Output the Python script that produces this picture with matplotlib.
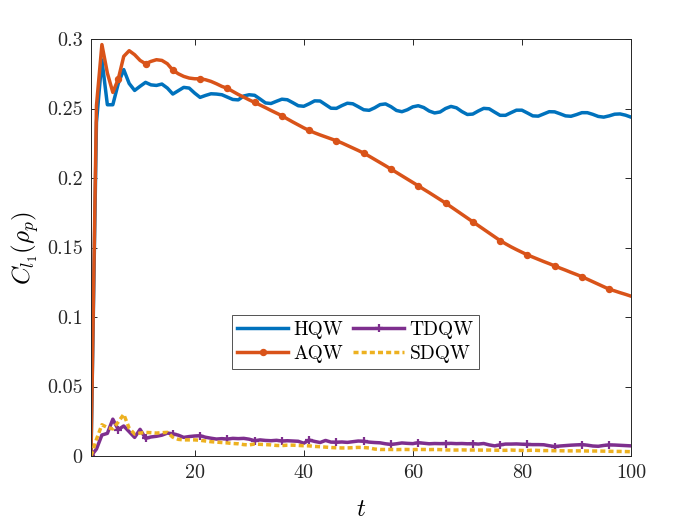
import matplotlib
matplotlib.use("Agg")
import matplotlib.pyplot as plt
import numpy as np

plt.rcParams['font.family'] = 'serif'
plt.rcParams['font.serif'] = ['cmr10']
plt.rcParams['mathtext.fontset'] = 'cm'
plt.rcParams['axes.formatter.use_mathtext'] = True
plt.rcParams['axes.unicode_minus'] = False

t = list(range(1, 101))

hqw = [0.0, 0.240, 0.285, 0.2527, 0.2527, 0.268, 0.278, 0.268, 0.263, 0.266,
       0.2688, 0.267, 0.2666, 0.2676, 0.2647, 0.2604, 0.2628, 0.2652, 0.2647, 0.2611,
       0.2580, 0.2594, 0.2606, 0.2604, 0.2599, 0.2582, 0.2565, 0.2562, 0.2590, 0.2599,
       0.2595, 0.2568, 0.2540, 0.2536, 0.2552, 0.2567, 0.2563, 0.2542, 0.2520, 0.2516,
       0.2534, 0.2555, 0.2554, 0.2528, 0.2502, 0.2501, 0.2521, 0.2538, 0.2534, 0.2513,
       0.2491, 0.2487, 0.2505, 0.2528, 0.2533, 0.2513, 0.2486, 0.2477, 0.2491, 0.2512,
       0.2520, 0.2507, 0.2482, 0.2468, 0.2475, 0.2500, 0.2515, 0.2505, 0.2478, 0.2457,
       0.2460, 0.2482, 0.2501, 0.2498, 0.2474, 0.2451, 0.2451, 0.2470, 0.2488, 0.2488,
       0.2468, 0.2447, 0.2445, 0.2461, 0.2477, 0.2476, 0.2462, 0.2447, 0.2444, 0.2456,
       0.2470, 0.2470, 0.2458, 0.2443, 0.2438, 0.2447, 0.2459, 0.2461, 0.2452, 0.2438]

aqw = [0.0, 0.252, 0.296, 0.2755, 0.2616, 0.2712, 0.2875, 0.2916, 0.2887, 0.2846,
       0.2822, 0.2839, 0.2851, 0.2846, 0.2822, 0.2776, 0.2750, 0.2731, 0.2719, 0.2714,
       0.2714, 0.2707, 0.2695, 0.2678, 0.2659, 0.2645, 0.2623, 0.2601, 0.2582, 0.2562,
       0.2544, 0.2525, 0.2506, 0.2486, 0.2467, 0.2448, 0.2425, 0.2403, 0.2382, 0.2361,
       0.2342, 0.2325, 0.2310, 0.2296, 0.2282, 0.2268, 0.2252, 0.2234, 0.2216, 0.2198,
       0.2179, 0.2157, 0.2134, 0.2111, 0.2088, 0.2064, 0.2040, 0.2016, 0.1992, 0.1968,
       0.1944, 0.1919, 0.1895, 0.1870, 0.1845, 0.1820, 0.1793, 0.1766, 0.1739, 0.1712,
       0.1685, 0.1658, 0.1631, 0.1604, 0.1577, 0.1550, 0.1527, 0.1505, 0.1485, 0.1466,
       0.1447, 0.1431, 0.1415, 0.1399, 0.1384, 0.1368, 0.1352, 0.1337, 0.1321, 0.1306,
       0.1290, 0.1272, 0.1254, 0.1236, 0.1218, 0.1200, 0.1188, 0.1175, 0.1163, 0.1150]

tdqw = [0.0, 0.0050, 0.0151, 0.0163, 0.0265, 0.0190, 0.0216, 0.0175, 0.0134, 0.0192,
        0.0127, 0.0137, 0.0142, 0.0150, 0.0165, 0.0160, 0.0150, 0.0134, 0.0140, 0.0144,
        0.0146, 0.0135, 0.0128, 0.0122, 0.0125, 0.0122, 0.0127, 0.0125, 0.0127, 0.0121,
        0.0110, 0.0116, 0.0112, 0.0110, 0.0113, 0.0108, 0.0110, 0.0108, 0.0106, 0.0092,
        0.0115, 0.0105, 0.0097, 0.0112, 0.0100, 0.0099, 0.0101, 0.0098, 0.0103, 0.0108,
        0.0106, 0.0100, 0.0097, 0.0095, 0.0088, 0.0083, 0.0088, 0.0094, 0.0091, 0.0089,
        0.0096, 0.0092, 0.0088, 0.0090, 0.0089, 0.0090, 0.0091, 0.0089, 0.0090, 0.0088,
        0.0089, 0.0086, 0.0090, 0.0080, 0.0073, 0.0080, 0.0086, 0.0086, 0.0087, 0.0085,
        0.0083, 0.0082, 0.0082, 0.0081, 0.0074, 0.0068, 0.0072, 0.0075, 0.0078, 0.0080,
        0.0082, 0.0078, 0.0072, 0.0070, 0.0076, 0.0080, 0.0079, 0.0077, 0.0075, 0.0073]

sdqw = [0.0, 0.0120, 0.0225, 0.0205, 0.0195, 0.0245, 0.0300, 0.0200, 0.0158, 0.0165,
        0.0170, 0.0168, 0.0165, 0.0168, 0.0170, 0.0135, 0.0120, 0.0116, 0.0116, 0.0116,
        0.0113, 0.0108, 0.0103, 0.0100, 0.0097, 0.0094, 0.0090, 0.0088, 0.0082, 0.0080,
        0.0086, 0.0084, 0.0082, 0.0080, 0.0076, 0.0075, 0.0078, 0.0078, 0.0076, 0.0074,
        0.0073, 0.0069, 0.0067, 0.0064, 0.0061, 0.0059, 0.0058, 0.0058, 0.0060, 0.0062,
        0.0061, 0.0058, 0.0050, 0.0047, 0.0047, 0.0047, 0.0046, 0.0047, 0.0047, 0.0046,
        0.0047, 0.0047, 0.0046, 0.0047, 0.0046, 0.0044, 0.0043, 0.0043, 0.0044, 0.0043,
        0.0043, 0.0043, 0.0042, 0.0043, 0.0042, 0.0041, 0.0041, 0.0043, 0.0041, 0.0040,
        0.0040, 0.0042, 0.0040, 0.0039, 0.0039, 0.0038, 0.0038, 0.0037, 0.0037, 0.0037,
        0.0037, 0.0036, 0.0036, 0.0036, 0.0035, 0.0034, 0.0033, 0.0033, 0.0032, 0.0031]

labels = ['HQW', 'AQW', 'TDQW', 'SDQW']
colors = ['#0072BD', '#D95319', '#7E2F8E', '#EDB120']

xticks = [20, 40, 60, 80, 100]
yticks = [0, 0.05, 0.1, 0.15, 0.2, 0.25, 0.3]
yticklabels = ['0', '0.05', '0.1', '0.15', '0.2', '0.25', '0.3']

fig = plt.figure(figsize=(7, 5.25), dpi=100)
ax = fig.add_axes([0.13, 0.1314, 0.7714, 0.7943])

lw = 2.5
ax.plot(t, hqw, color=colors[0], lw=lw, label=labels[0], solid_joinstyle='round')
ax.plot(t, aqw, color=colors[1], lw=lw, label=labels[1], marker='o', markersize=4.3,
        markevery=(0, 5), solid_joinstyle='round')
ax.plot(t, tdqw, color=colors[2], lw=lw, label=labels[2], marker='+', markersize=6,
        markeredgewidth=1.6, markevery=(0, 5), solid_joinstyle='round')
ax.plot(t, sdqw, color=colors[3], lw=lw, label=labels[3], linestyle=(0, (1.45, 0.9)))

ax.set_xlim(1, 100)
ax.set_ylim(0, 0.3)
ax.set_xticks(xticks)
ax.set_xticklabels([str(v) for v in xticks])
ax.set_yticks(yticks)
ax.set_yticklabels(yticklabels)

ax.tick_params(direction='in', top=True, right=True, length=4, width=0.7,
               labelsize=14.5, colors='#262626', pad=6)
for s in ax.spines.values():
    s.set_linewidth(0.7)
    s.set_color('#262626')

ax.set_xlabel(r'$t$', fontsize=18, labelpad=12)
ax.set_ylabel(r'$C_{l_1}(\rho_p)$', fontsize=18, labelpad=4)

leg = fig.legend(loc='center', bbox_to_anchor=(0.508, 0.3486), ncol=2, fontsize=14,
                 frameon=True, fancybox=False, edgecolor='#262626', handlelength=2.6,
                 columnspacing=0.5, handletextpad=0.3, labelspacing=0.32,
                 borderpad=0.28, borderaxespad=0)
leg.get_frame().set_linewidth(0.7)

fig.savefig('out.png', dpi=100)
